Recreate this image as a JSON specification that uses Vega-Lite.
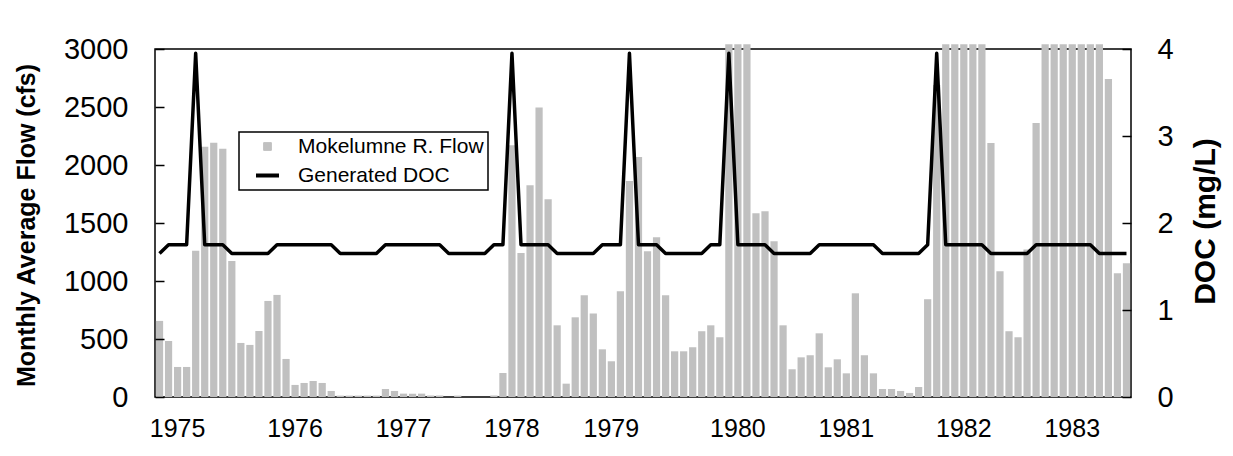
{
  "$schema": "https://vega.github.io/schema/vega-lite/v6.json",
  "description": "Mokelumne River monthly average flow with generated DOC, water years 1975-1983",
  "width": 976,
  "height": 348,
  "autosize": {"type": "none"},
  "padding": {"left": 155, "top": 49, "right": 102, "bottom": 59},
  "background": "white",
  "data": {
    "values": [
      {"month": "1974-10", "flow": 656, "doc": 1.65},
      {"month": "1974-11", "flow": 483, "doc": 1.75},
      {"month": "1974-12", "flow": 259, "doc": 1.75},
      {"month": "1975-01", "flow": 259, "doc": 1.75},
      {"month": "1975-02", "flow": 1260, "doc": 3.95},
      {"month": "1975-03", "flow": 2157, "doc": 1.75},
      {"month": "1975-04", "flow": 2192, "doc": 1.75},
      {"month": "1975-05", "flow": 2140, "doc": 1.75},
      {"month": "1975-06", "flow": 1173, "doc": 1.65},
      {"month": "1975-07", "flow": 466, "doc": 1.65},
      {"month": "1975-08", "flow": 449, "doc": 1.65},
      {"month": "1975-09", "flow": 569, "doc": 1.65},
      {"month": "1975-10", "flow": 828, "doc": 1.65},
      {"month": "1975-11", "flow": 880, "doc": 1.75},
      {"month": "1975-12", "flow": 328, "doc": 1.75},
      {"month": "1976-01", "flow": 104, "doc": 1.75},
      {"month": "1976-02", "flow": 121, "doc": 1.75},
      {"month": "1976-03", "flow": 138, "doc": 1.75},
      {"month": "1976-04", "flow": 121, "doc": 1.75},
      {"month": "1976-05", "flow": 52, "doc": 1.75},
      {"month": "1976-06", "flow": 12, "doc": 1.65},
      {"month": "1976-07", "flow": 12, "doc": 1.65},
      {"month": "1976-08", "flow": 12, "doc": 1.65},
      {"month": "1976-09", "flow": 12, "doc": 1.65},
      {"month": "1976-10", "flow": 12, "doc": 1.65},
      {"month": "1976-11", "flow": 69, "doc": 1.75},
      {"month": "1976-12", "flow": 52, "doc": 1.75},
      {"month": "1977-01", "flow": 29, "doc": 1.75},
      {"month": "1977-02", "flow": 29, "doc": 1.75},
      {"month": "1977-03", "flow": 29, "doc": 1.75},
      {"month": "1977-04", "flow": 12, "doc": 1.75},
      {"month": "1977-05", "flow": 12, "doc": 1.75},
      {"month": "1977-06", "flow": 0, "doc": 1.65},
      {"month": "1977-07", "flow": 12, "doc": 1.65},
      {"month": "1977-08", "flow": 0, "doc": 1.65},
      {"month": "1977-09", "flow": 0, "doc": 1.65},
      {"month": "1977-10", "flow": 0, "doc": 1.65},
      {"month": "1977-11", "flow": 12, "doc": 1.75},
      {"month": "1977-12", "flow": 207, "doc": 1.75},
      {"month": "1978-01", "flow": 2171, "doc": 3.95},
      {"month": "1978-02", "flow": 1242, "doc": 1.75},
      {"month": "1978-03", "flow": 1826, "doc": 1.75},
      {"month": "1978-04", "flow": 2496, "doc": 1.75},
      {"month": "1978-05", "flow": 1705, "doc": 1.75},
      {"month": "1978-06", "flow": 618, "doc": 1.65},
      {"month": "1978-07", "flow": 115, "doc": 1.65},
      {"month": "1978-08", "flow": 687, "doc": 1.65},
      {"month": "1978-09", "flow": 877, "doc": 1.65},
      {"month": "1978-10", "flow": 719, "doc": 1.65},
      {"month": "1978-11", "flow": 411, "doc": 1.75},
      {"month": "1978-12", "flow": 308, "doc": 1.75},
      {"month": "1979-01", "flow": 912, "doc": 1.75},
      {"month": "1979-02", "flow": 1861, "doc": 3.95},
      {"month": "1979-03", "flow": 2068, "doc": 1.75},
      {"month": "1979-04", "flow": 1257, "doc": 1.75},
      {"month": "1979-05", "flow": 1378, "doc": 1.75},
      {"month": "1979-06", "flow": 877, "doc": 1.65},
      {"month": "1979-07", "flow": 394, "doc": 1.65},
      {"month": "1979-08", "flow": 394, "doc": 1.65},
      {"month": "1979-09", "flow": 429, "doc": 1.65},
      {"month": "1979-10", "flow": 567, "doc": 1.65},
      {"month": "1979-11", "flow": 618, "doc": 1.75},
      {"month": "1979-12", "flow": 515, "doc": 1.75},
      {"month": "1980-01", "flow": 3040, "doc": 3.95},
      {"month": "1980-02", "flow": 3040, "doc": 1.75},
      {"month": "1980-03", "flow": 3040, "doc": 1.75},
      {"month": "1980-04", "flow": 1585, "doc": 1.75},
      {"month": "1980-05", "flow": 1602, "doc": 1.75},
      {"month": "1980-06", "flow": 1343, "doc": 1.65},
      {"month": "1980-07", "flow": 618, "doc": 1.65},
      {"month": "1980-08", "flow": 239, "doc": 1.65},
      {"month": "1980-09", "flow": 342, "doc": 1.65},
      {"month": "1980-10", "flow": 360, "doc": 1.65},
      {"month": "1980-11", "flow": 549, "doc": 1.75},
      {"month": "1980-12", "flow": 256, "doc": 1.75},
      {"month": "1981-01", "flow": 325, "doc": 1.75},
      {"month": "1981-02", "flow": 204, "doc": 1.75},
      {"month": "1981-03", "flow": 894, "doc": 1.75},
      {"month": "1981-04", "flow": 360, "doc": 1.75},
      {"month": "1981-05", "flow": 204, "doc": 1.75},
      {"month": "1981-06", "flow": 69, "doc": 1.65},
      {"month": "1981-07", "flow": 69, "doc": 1.65},
      {"month": "1981-08", "flow": 52, "doc": 1.65},
      {"month": "1981-09", "flow": 35, "doc": 1.65},
      {"month": "1981-10", "flow": 86, "doc": 1.65},
      {"month": "1981-11", "flow": 843, "doc": 1.75},
      {"month": "1981-12", "flow": 2689, "doc": 3.95},
      {"month": "1982-01", "flow": 3040, "doc": 1.75},
      {"month": "1982-02", "flow": 3040, "doc": 1.75},
      {"month": "1982-03", "flow": 3040, "doc": 1.75},
      {"month": "1982-04", "flow": 3040, "doc": 1.75},
      {"month": "1982-05", "flow": 3040, "doc": 1.75},
      {"month": "1982-06", "flow": 2189, "doc": 1.65},
      {"month": "1982-07", "flow": 1084, "doc": 1.65},
      {"month": "1982-08", "flow": 567, "doc": 1.65},
      {"month": "1982-09", "flow": 515, "doc": 1.65},
      {"month": "1982-10", "flow": 1271, "doc": 1.65},
      {"month": "1982-11", "flow": 2361, "doc": 1.75},
      {"month": "1982-12", "flow": 3040, "doc": 1.75},
      {"month": "1983-01", "flow": 3040, "doc": 1.75},
      {"month": "1983-02", "flow": 3040, "doc": 1.75},
      {"month": "1983-03", "flow": 3040, "doc": 1.75},
      {"month": "1983-04", "flow": 3040, "doc": 1.75},
      {"month": "1983-05", "flow": 3040, "doc": 1.75},
      {"month": "1983-06", "flow": 3040, "doc": 1.65},
      {"month": "1983-07", "flow": 2741, "doc": 1.65},
      {"month": "1983-08", "flow": 1067, "doc": 1.65},
      {"month": "1983-09", "flow": 1153, "doc": 1.65}
    ]
  },
  "encoding": {
    "x": {
      "field": "month",
      "type": "ordinal",
      "scale": {"paddingInner": 0.2, "paddingOuter": 0.1},
      "axis": {
        "title": null,
        "values": ["1974-12", "1976-01", "1977-01", "1978-01", "1978-12", "1980-02", "1981-02", "1982-03", "1983-03"],
        "labelExpr": "'' + (toNumber(slice(datum.value, 0, 4)) + (toNumber(slice(datum.value, 5, 7)) >= 10 ? 1 : 0))",
        "labelAngle": 0,
        "labelFontSize": 25,
        "labelPadding": 19,
        "ticks": false,
        "domain": false,
        "encode": {
          "labels": {
            "update": {
              "dy": {"signal": "datum.value === '1980-02' || datum.value === '1982-03' ? 4 : 0"}
            }
          }
        }
      }
    }
  },
  "layer": [
    {
      "mark": {"type": "bar", "color": "#c0c0c0"},
      "encoding": {
        "y": {
          "field": "flow",
          "type": "quantitative",
          "scale": {"domain": [0, 3000], "nice": false},
          "axis": {
            "title": "Monthly Average Flow (cfs)",
            "orient": "left",
            "values": [0, 500, 1000, 1500, 2000, 2500, 3000],
            "format": "d",
            "offset": -9,
            "zindex": 1,
            "labelFontSize": 29,
            "labelPadding": 27,
            "ticks": true,
            "tickSize": 9,
            "tickWidth": 1.5,
            "tickColor": "black",
            "domain": false,
            "grid": false,
            "titleFontSize": 25,
            "titleAngle": -90,
            "titleBaseline": "alphabetic",
            "titleAlign": "center",
            "titleX": -130,
            "titleY": 176
          }
        },
        "color": {
          "datum": "Mokelumne R. Flow",
          "scale": {
            "domain": ["Mokelumne R. Flow", "Generated DOC"],
            "range": ["#c0c0c0", "#000000"]
          },
          "legend": {
            "title": null,
            "orient": "none",
            "legendX": 84,
            "legendY": 83,
            "direction": "vertical",
            "labelFontSize": 21,
            "labelOffset": 20,
            "labelLimit": 400,
            "labelExpr": "datum.label + '\u2003\u2009'",
            "symbolSize": 529,
            "symbolOffset": 14,
            "rowPadding": 7,
            "padding": 4,
            "strokeColor": "black",
            "fillColor": "white",
            "encode": {
              "legend": {
                "update": {"strokeWidth": {"value": 1.5}}
              },
              "symbols": {
                "update": {
                  "shape": {"signal": "datum.value === 'Generated DOC' ? 'stroke' : 'square'"},
                  "size": {"signal": "datum.value === 'Generated DOC' ? 529 : 60"},
                  "fill": {"signal": "datum.value === 'Generated DOC' ? 'transparent' : '#c0c0c0'"},
                  "stroke": {"signal": "datum.value === 'Generated DOC' ? '#000000' : '#333333'"},
                  "strokeWidth": {"signal": "datum.value === 'Generated DOC' ? 4 : 1"},
                  "opacity": {"value": 1}
                }
              }
            }
          }
        }
      }
    },
    {
      "mark": {"type": "line", "strokeWidth": 3.5, "strokeJoin": "round"},
      "encoding": {
        "y": {
          "field": "doc",
          "type": "quantitative",
          "scale": {"domain": [0, 4], "nice": false},
          "axis": {
            "title": "DOC (mg/L)",
            "orient": "right",
            "values": [0, 1, 2, 3, 4],
            "offset": -9,
            "zindex": 1,
            "labelFontSize": 29,
            "labelPadding": 26,
            "ticks": true,
            "tickSize": 9,
            "tickWidth": 1.5,
            "tickColor": "black",
            "domain": false,
            "grid": false,
            "titleFontSize": 30,
            "titleAngle": -90,
            "titleBaseline": "alphabetic",
            "titleAlign": "center",
            "titleX": 92,
            "titleY": 172
          }
        },
        "color": {"datum": "Generated DOC"}
      }
    }
  ],
  "resolve": {"scale": {"y": "independent"}},
  "config": {
    "font": "Liberation Sans",
    "view": {"stroke": "black", "strokeWidth": 1.5},
    "axis": {
      "labelColor": "black",
      "titleColor": "black",
      "labelFont": "Liberation Sans",
      "titleFont": "Liberation Sans",
      "titleFontWeight": "bold"
    },
    "legend": {"labelColor": "black", "labelFont": "Liberation Sans"}
  }
}
